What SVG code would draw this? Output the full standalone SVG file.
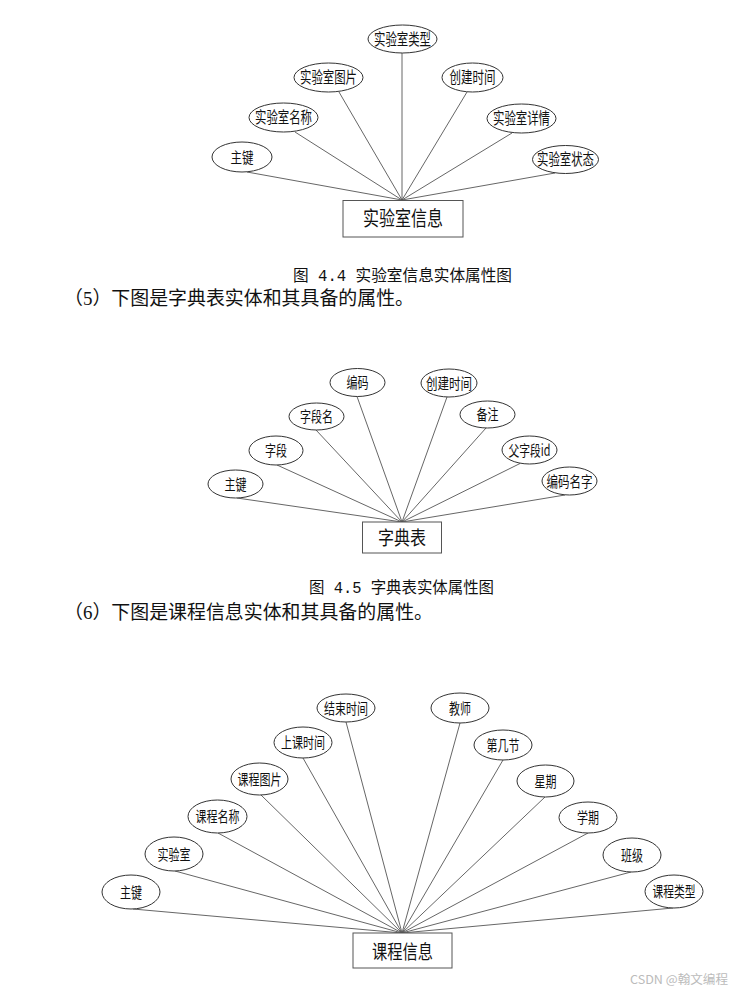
<svg xmlns="http://www.w3.org/2000/svg" width="740" height="991" viewBox="0 0 740 991">
<style>
.bg{fill:#ffffff}
.attr ellipse{fill:#ffffff;stroke:#333333;stroke-width:1}
.attr text{font-family:"Noto Sans CJK SC","Noto Sans",sans-serif;font-size:15px;fill:#111111;text-anchor:middle}
.ent rect{fill:#ffffff;stroke:#555555;stroke-width:1}
.ent text{font-family:"Noto Sans CJK SC","Noto Sans",sans-serif;fill:#111111;text-anchor:middle}
.conn line{stroke:#555555;stroke-width:0.9}
.cap{font-family:"Liberation Mono","Noto Sans CJK SC",monospace;font-size:16px;fill:#111111}
.para{font-family:"Liberation Serif","Noto Sans CJK SC",serif;font-size:19px;fill:#111111}
.wm{font-family:"Noto Sans CJK SC","Noto Sans",sans-serif;font-size:12px;fill:#bbbbbb}
</style>
<rect class="bg" x="0" y="0" width="740" height="991"/>

<!-- Diagram 1 connectors -->
<g id="connectors-1" class="conn">
<line x1="247" y1="172" x2="402" y2="200"/>
<line x1="295" y1="132" x2="402" y2="200"/>
<line x1="339" y1="92" x2="402" y2="200"/>
<line x1="402" y1="53" x2="402" y2="200"/>
<line x1="467" y1="92" x2="402" y2="200"/>
<line x1="512" y1="133" x2="402" y2="200"/>
<line x1="555" y1="173" x2="402" y2="200"/>
</g>
<g id="d1-zhujian" class="attr"><ellipse cx="242" cy="157" rx="30" ry="15"/><text x="242" y="162.5" textLength="23" lengthAdjust="spacingAndGlyphs">主键</text></g>
<g id="d1-mingcheng" class="attr"><ellipse cx="283.5" cy="117.5" rx="34.5" ry="14.5"/><text x="283.5" y="123" textLength="57" lengthAdjust="spacingAndGlyphs" style="font-size:16px">实验室名称</text></g>
<g id="d1-tupian" class="attr"><ellipse cx="328.5" cy="77.5" rx="34.5" ry="14.5"/><text x="328.5" y="83" textLength="57" lengthAdjust="spacingAndGlyphs" style="font-size:16px">实验室图片</text></g>
<g id="d1-leixing" class="attr"><ellipse cx="402.5" cy="39" rx="34.5" ry="14"/><text x="402.5" y="44.5" textLength="57" lengthAdjust="spacingAndGlyphs" style="font-size:16px">实验室类型</text></g>
<g id="d1-chuangjian" class="attr"><ellipse cx="472.5" cy="77.5" rx="30.5" ry="14.5"/><text x="472.5" y="83" textLength="46" lengthAdjust="spacingAndGlyphs" style="font-size:16px">创建时间</text></g>
<g id="d1-xiangqing" class="attr"><ellipse cx="521.5" cy="118.5" rx="34.5" ry="14.5"/><text x="521.5" y="124" textLength="57" lengthAdjust="spacingAndGlyphs" style="font-size:16px">实验室详情</text></g>
<g id="d1-zhuangtai" class="attr"><ellipse cx="565.5" cy="159.5" rx="33" ry="14"/><text x="565.5" y="165" textLength="57" lengthAdjust="spacingAndGlyphs" style="font-size:16px">实验室状态</text></g>
<g id="d1-entity" class="ent"><rect x="343" y="200.5" width="120" height="36.5"/><text x="403" y="226" textLength="80" lengthAdjust="spacingAndGlyphs" style="font-size:20px">实验室信息</text></g>

<text class="cap" x="293" y="281" textLength="219" lengthAdjust="spacingAndGlyphs">图 4.4 实验室信息实体属性图</text>
<text class="para" x="64" y="305" textLength="350" lengthAdjust="spacingAndGlyphs">（5）下图是字典表实体和其具备的属性。</text>

<!-- Diagram 2 connectors -->
<g id="connectors-2" class="conn">
<line x1="237" y1="498" x2="402" y2="522"/>
<line x1="277" y1="465" x2="402" y2="522"/>
<line x1="316" y1="430" x2="402" y2="522"/>
<line x1="357" y1="396.5" x2="402" y2="522"/>
<line x1="447" y1="397" x2="402" y2="522"/>
<line x1="486" y1="428" x2="402" y2="522"/>
<line x1="520" y1="463.5" x2="402" y2="522"/>
<line x1="565" y1="495" x2="402" y2="522"/>
</g>
<g id="d2-zhujian" class="attr"><ellipse cx="235.5" cy="484" rx="27.5" ry="14"/><text x="235.5" y="489.5" textLength="22" lengthAdjust="spacingAndGlyphs">主键</text></g>
<g id="d2-ziduan" class="attr"><ellipse cx="276" cy="450.5" rx="27" ry="14.5"/><text x="276" y="456" textLength="22" lengthAdjust="spacingAndGlyphs">字段</text></g>
<g id="d2-ziduanming" class="attr"><ellipse cx="316.5" cy="416.5" rx="27.5" ry="13.5"/><text x="316.5" y="422" textLength="33" lengthAdjust="spacingAndGlyphs">字段名</text></g>
<g id="d2-bianma" class="attr"><ellipse cx="357.5" cy="382.5" rx="27.5" ry="14"/><text x="357.5" y="388" textLength="22" lengthAdjust="spacingAndGlyphs">编码</text></g>
<g id="d2-chuangjian" class="attr"><ellipse cx="449" cy="383" rx="28" ry="14"/><text x="449" y="388.5" textLength="46" lengthAdjust="spacingAndGlyphs">创建时间</text></g>
<g id="d2-beizhu" class="attr"><ellipse cx="487.5" cy="414.5" rx="27.5" ry="13.5"/><text x="487.5" y="420" textLength="22" lengthAdjust="spacingAndGlyphs">备注</text></g>
<g id="d2-fuziduan" class="attr"><ellipse cx="529.5" cy="450" rx="27.5" ry="14"/><text x="529.5" y="455.5" textLength="42" lengthAdjust="spacingAndGlyphs">父字段id</text></g>
<g id="d2-bianmamingzi" class="attr"><ellipse cx="569.5" cy="481" rx="27.5" ry="14"/><text x="569.5" y="486.5" textLength="46" lengthAdjust="spacingAndGlyphs">编码名字</text></g>
<g id="d2-entity" class="ent"><rect x="362.5" y="522" width="79" height="31"/><text x="402" y="545" textLength="48" lengthAdjust="spacingAndGlyphs" style="font-size:19px">字典表</text></g>

<text class="cap" x="309" y="593" textLength="185" lengthAdjust="spacingAndGlyphs">图 4.5 字典表实体属性图</text>
<text class="para" x="64" y="619" textLength="369" lengthAdjust="spacingAndGlyphs">（6）下图是课程信息实体和其具备的属性。</text>

<!-- Diagram 3 connectors -->
<g id="connectors-3" class="conn">
<line x1="133" y1="909" x2="402" y2="933"/>
<line x1="175" y1="871" x2="402" y2="933"/>
<line x1="218" y1="833" x2="402" y2="933"/>
<line x1="261" y1="795" x2="402" y2="933"/>
<line x1="303" y1="758" x2="402" y2="933"/>
<line x1="346" y1="722" x2="402" y2="933"/>
<line x1="460" y1="723" x2="402" y2="933"/>
<line x1="503" y1="760" x2="402" y2="933"/>
<line x1="545" y1="797" x2="402" y2="933"/>
<line x1="588" y1="833" x2="402" y2="933"/>
<line x1="631" y1="872" x2="402" y2="933"/>
<line x1="673" y1="908" x2="402" y2="933"/>
</g>
<g id="d3-zhujian" class="attr"><ellipse cx="131" cy="892" rx="29" ry="17"/><text x="131" y="897.5" textLength="22" lengthAdjust="spacingAndGlyphs">主键</text></g>
<g id="d3-shiyanshi" class="attr"><ellipse cx="174" cy="854" rx="29" ry="17"/><text x="174" y="859.5" textLength="33" lengthAdjust="spacingAndGlyphs">实验室</text></g>
<g id="d3-mingcheng" class="attr"><ellipse cx="217.5" cy="816.5" rx="29.5" ry="16.5"/><text x="217.5" y="822" textLength="44" lengthAdjust="spacingAndGlyphs">课程名称</text></g>
<g id="d3-tupian" class="attr"><ellipse cx="259.5" cy="779" rx="28.5" ry="16"/><text x="259.5" y="784.5" textLength="44" lengthAdjust="spacingAndGlyphs">课程图片</text></g>
<g id="d3-shangke" class="attr"><ellipse cx="303" cy="742.5" rx="29" ry="15.5"/><text x="303" y="748" textLength="44" lengthAdjust="spacingAndGlyphs">上课时间</text></g>
<g id="d3-jieshu" class="attr"><ellipse cx="346" cy="708" rx="29" ry="14"/><text x="346" y="713.5" textLength="44" lengthAdjust="spacingAndGlyphs">结束时间</text></g>
<g id="d3-jiaoshi" class="attr"><ellipse cx="460" cy="708" rx="29" ry="15"/><text x="460" y="713.5" textLength="22" lengthAdjust="spacingAndGlyphs">教师</text></g>
<g id="d3-dijijie" class="attr"><ellipse cx="503" cy="745" rx="29" ry="15"/><text x="503" y="750.5" textLength="33" lengthAdjust="spacingAndGlyphs">第几节</text></g>
<g id="d3-xingqi" class="attr"><ellipse cx="545.5" cy="781" rx="28.5" ry="16"/><text x="545.5" y="786.5" textLength="22" lengthAdjust="spacingAndGlyphs">星期</text></g>
<g id="d3-xueqi" class="attr"><ellipse cx="588" cy="817.5" rx="29" ry="15.5"/><text x="588" y="823" textLength="22" lengthAdjust="spacingAndGlyphs">学期</text></g>
<g id="d3-banji" class="attr"><ellipse cx="632" cy="855" rx="29" ry="17"/><text x="632" y="860.5" textLength="22" lengthAdjust="spacingAndGlyphs">班级</text></g>
<g id="d3-leixing" class="attr"><ellipse cx="674" cy="891.5" rx="29" ry="16.5"/><text x="674" y="897" textLength="43" lengthAdjust="spacingAndGlyphs">课程类型</text></g>
<g id="d3-entity" class="ent"><rect x="353" y="933" width="99" height="35"/><text x="402.5" y="959" textLength="61" lengthAdjust="spacingAndGlyphs" style="font-size:19px">课程信息</text></g>

<text class="wm" x="630" y="984" textLength="98" lengthAdjust="spacingAndGlyphs">CSDN @翰文编程</text>
</svg>
